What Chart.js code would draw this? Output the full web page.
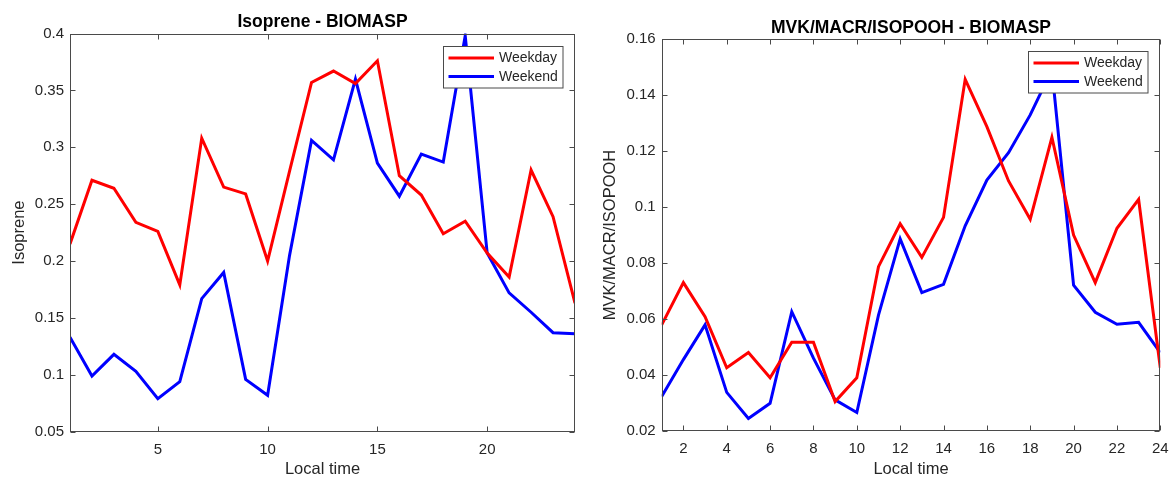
<!DOCTYPE html>
<html>
<head>
<meta charset="utf-8">
<script src="https://cdn.jsdelivr.net/npm/chart.js@4.4.1/dist/chart.umd.min.js"></script>
<style>
  html, body { margin: 0; padding: 0; background: #fff; width: 1169px; height: 477px; overflow: hidden; }
  .panel { position: absolute; top: 0; height: 477px; }
  #p1 { left: 0; width: 590px; }
  #p2 { left: 590px; width: 579px; }
  canvas { display: block; }
</style>
</head>
<body>
<div class="panel" id="p1"><canvas id="c1" width="590" height="477"></canvas></div>
<div class="panel" id="p2"><canvas id="c2" width="579" height="477"></canvas></div>
<script>
// Hour of day (local time)
const hours = [1, 2, 3, 4, 5, 6, 7, 8, 9, 10, 11, 12, 13, 14, 15, 16, 17, 18, 19, 20, 21, 22, 23, 24];

// Isoprene diurnal profile
const isopreneWeekday = [0.215, 0.271, 0.264, 0.234, 0.226, 0.179, 0.308, 0.265, 0.259, 0.200, 0.279, 0.357,
                         0.367, 0.356, 0.376, 0.275, 0.258, 0.224, 0.235, 0.207, 0.186, 0.280, 0.239, 0.163];
const isopreneWeekend = [0.133, 0.099, 0.118, 0.103, 0.079, 0.094, 0.167, 0.190, 0.096, 0.082, 0.205, 0.306,
                         0.289, 0.360, 0.286, 0.257, 0.294, 0.287, 0.398, 0.207, 0.172, 0.155, 0.137, 0.136];

// MVK/MACR/ISOPOOH diurnal profile
const mvkWeekday = [0.0579, 0.0730, 0.0608, 0.0426, 0.0480, 0.0390, 0.0517, 0.0517, 0.0305, 0.0390, 0.0787, 0.0940,
                    0.0820, 0.0963, 0.1456, 0.1287, 0.1093, 0.0956, 0.1249, 0.0900, 0.0730, 0.0924, 0.1027, 0.0426];
const mvkWeekend = [0.0323, 0.0455, 0.0579, 0.0338, 0.0245, 0.0299, 0.0626, 0.0460, 0.0311, 0.0266, 0.0614, 0.0886,
                    0.0694, 0.0724, 0.0933, 0.1096, 0.1194, 0.1329, 0.1490, 0.0721, 0.0624, 0.0581, 0.0588, 0.0480];

// Tick positions
const isopreneXTicks = [5, 10, 15, 20];
const isopreneYTicks = [0.05, 0.1, 0.15, 0.2, 0.25, 0.3, 0.35, 0.4];
const mvkXTicks = [2, 4, 6, 8, 10, 12, 14, 16, 18, 20, 22, 24];
const mvkYTicks = [0.02, 0.04, 0.06, 0.08, 0.1, 0.12, 0.14, 0.16];

const seriesNames = ['Weekday', 'Weekend'];
const seriesColors = ['#ff0000', '#0000ff'];

const FONT = '"Liberation Sans", Arial, Helvetica, sans-serif';
const TEXT = '#262626';
const AXIS = '#4a4a4a';

// Boxed axes with inward ticks, a framed legend and a bold title above the plot
const boxedAxes = {
  id: 'boxedAxes',
  afterDatasetsDraw(chart, args, opts) {
    const { ctx, chartArea: a, scales: { x, y } } = chart;
    ctx.save();
    ctx.strokeStyle = AXIS;
    ctx.lineWidth = 1;
    const L = Math.round(a.left) + 0.5, R = Math.round(a.right) - 0.5;
    const T = Math.round(a.top) + 0.5, B = Math.round(a.bottom) - 0.5;
    ctx.strokeRect(L, T, R - L, B - T);
    const tl = 5;
    ctx.beginPath();
    x.ticks.forEach(t => {
      const px = Math.round(x.getPixelForValue(t.value)) + 0.5;
      ctx.moveTo(px, B); ctx.lineTo(px, B - tl);
      ctx.moveTo(px, T); ctx.lineTo(px, T + tl);
    });
    y.ticks.forEach(t => {
      const py = Math.round(y.getPixelForValue(t.value)) + 0.5;
      ctx.moveTo(L, py); ctx.lineTo(L + tl, py);
      ctx.moveTo(R, py); ctx.lineTo(R - tl, py);
    });
    ctx.stroke();

    // legend
    const lw = 119.5, lh = 41.5;
    const lx = Math.round(a.right - 12.5 - lw) + 0.5;
    const ly = Math.round(a.top + 12) + 0.5;
    ctx.fillStyle = '#ffffff';
    ctx.fillRect(lx, ly, lw, lh);
    ctx.strokeStyle = AXIS;
    ctx.strokeRect(lx, ly, lw, lh);
    ctx.font = '14px ' + FONT;
    ctx.textBaseline = 'middle';
    ctx.textAlign = 'left';
    chart.data.datasets.forEach((ds, i) => {
      const yy = ly + 11.5 + i * 18.5;
      ctx.strokeStyle = ds.borderColor;
      ctx.lineWidth = 3;
      ctx.beginPath();
      ctx.moveTo(lx + 5, yy);
      ctx.lineTo(lx + 50.5, yy);
      ctx.stroke();
      ctx.fillStyle = TEXT;
      ctx.fillText(ds.label, lx + 55.5, yy + 0.5);
    });

    // title
    ctx.fillStyle = '#000000';
    ctx.font = 'bold 17.5px ' + FONT;
    ctx.textAlign = 'center';
    ctx.textBaseline = 'middle';
    ctx.fillText(opts.text, (a.left + a.right) / 2, a.top - 11);
    ctx.restore();
  }
};

function makeChart(canvasId, cfg) {
  const datasets = [cfg.weekday, cfg.weekend].map((vals, i) => ({
    label: seriesNames[i],
    data: hours.map((h, k) => ({ x: h, y: vals[k] })),
    borderColor: seriesColors[i],
    backgroundColor: seriesColors[i],
    borderWidth: 3,
    pointRadius: 0,
    tension: 0,
    fill: false
  }));
  return new Chart(document.getElementById(canvasId), {
    type: 'line',
    data: { datasets },
    plugins: [boxedAxes],
    options: {
      responsive: false,
      animation: false,
      events: [],
      layout: { padding: { top: cfg.top, right: cfg.right, left: 0, bottom: 0 } },
      plugins: {
        legend: { display: false },
        tooltip: { enabled: false },
        title: { display: false },
        boxedAxes: { text: cfg.title }
      },
      scales: {
        x: {
          type: 'linear',
          min: 1,
          max: 24,
          afterBuildTicks: s => { s.ticks = cfg.xTicks.map(v => ({ value: v })); },
          afterFit: s => { s.height = cfg.xAxisHeight; s.paddingLeft = 0; s.paddingRight = 0; },
          grid: { display: false, drawTicks: false },
          border: { display: false },
          ticks: { color: TEXT, font: { family: FONT, size: 15 }, padding: 9, maxRotation: 0, autoSkip: false,
                   callback: v => String(v) },
          title: { display: true, text: 'Local time', color: TEXT, font: { family: FONT, size: 16.5 },
                   padding: { top: 0, bottom: -2.5 } }
        },
        y: {
          type: 'linear',
          min: cfg.yTicks[0],
          max: cfg.yTicks[cfg.yTicks.length - 1],
          afterBuildTicks: s => { s.ticks = cfg.yTicks.map(v => ({ value: v })); },
          afterFit: s => { s.width = cfg.yAxisWidth; s.paddingTop = 0; s.paddingBottom = 0; },
          grid: { display: false, drawTicks: false },
          border: { display: false },
          ticks: { color: TEXT, font: { family: FONT, size: 15 }, padding: 6,
                   callback: v => String(+Number(v).toFixed(4)) },
          title: { display: true, text: cfg.yLabel, color: TEXT, font: { family: FONT, size: 16.5 },
                   padding: { top: cfg.yTitlePad, bottom: 0 } }
        }
      }
    }
  });
}

makeChart('c1', {
  title: 'Isoprene - BIOMASP',
  yLabel: 'Isoprene',
  weekday: isopreneWeekday,
  weekend: isopreneWeekend,
  xTicks: isopreneXTicks,
  yTicks: isopreneYTicks,
  top: 33.5,
  right: 15,
  xAxisHeight: 45.3,
  yAxisWidth: 70,
  yTitlePad: 9.5
});

makeChart('c2', {
  title: 'MVK/MACR/ISOPOOH - BIOMASP',
  yLabel: 'MVK/MACR/ISOPOOH',
  weekday: mvkWeekday,
  weekend: mvkWeekend,
  xTicks: mvkXTicks,
  yTicks: mvkYTicks,
  top: 39,
  right: 8.7,
  xAxisHeight: 46,
  yAxisWidth: 71.7,
  yTitlePad: 11
});
</script>
</body>
</html>
